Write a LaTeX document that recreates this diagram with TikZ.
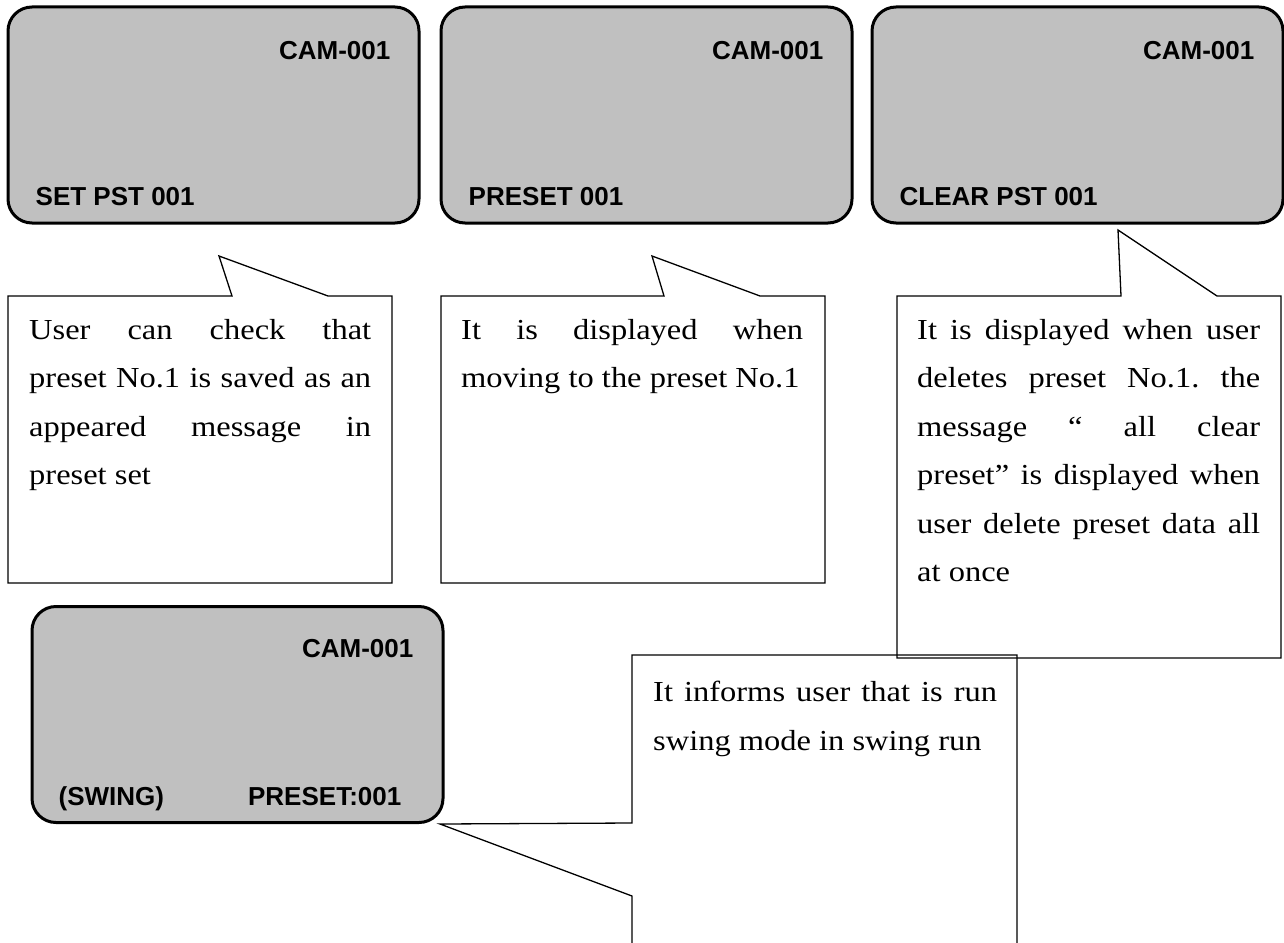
\documentclass[tikz,border=0pt]{standalone}
\usepackage{fontspec}
\setsansfont{Liberation Sans}
\newfontfamily\notefont[FakeStretch=1.12]{Liberation Serif}
\usepackage{tikz}
\usetikzlibrary{
  positioning,
  calc
}
\definecolor{lcdgray}{RGB}{192,192,192}

\begin{document}
\begin{tikzpicture}[
  x=1pt, y=-1pt,
  screen/.style={
    draw, rounded corners=24pt, minimum width=411pt, minimum height=216pt,
    fill=lcdgray, line width=3pt, inner sep=0pt,
  },
  osd/.style={font=\fontsize{26}{30}\selectfont\sffamily\bfseries, inner sep=0pt},
  bubble/.style={draw, line width=1.3pt},
  note/.style={
    font=\fontsize{29}{48.5}\selectfont\notefont\frenchspacing,
    align=justify, anchor=north west, inner sep=0pt,
  },
]
\useasboundingbox (0,0) rectangle (1284,942);

% Top row of screens
\foreach \n/\x/\msg in {s1/213.5/SET PST 001, s2/646.5/PRESET 001, s3/1077.5/CLEAR PST 001} {
  \node[screen] (\n) at (\x,115) {};
  \node[osd, anchor=base east] (\n cam) at ([xshift=-30pt,yshift=-54pt]\n.north east) {CAM-001};
  \node[osd, anchor=base west] (\n msg) at ([xshift=29pt,yshift=19pt]\n.south west) {\msg};
}

% Swing screen
\node[screen] (s4) at (237.5,714.5) {};
\node[osd, anchor=base east] (s4cam)  at ([xshift=-31pt,yshift=-52pt]s4.north east) {CAM-001};
\node[osd, anchor=base west] (s4mode) at ([xshift=28pt,yshift=19pt]s4.south west) {(SWING)};
\node[osd, anchor=base east] (s4pst)  at ([xshift=-43pt,yshift=19pt]s4.south east) {PRESET:001};

% Callout under SET PST
\coordinate (c1tl) at (8,296);
\coordinate (c1br) at (392,583);
\coordinate (c1tip) at (219,256);
\draw[bubble] (c1tl) -- (232,296) -- (c1tip) -- (328,296) -- (c1tl -| c1br)
  -- (c1br) -- (c1tl |- c1br) -- cycle;
\node[note, text width=342pt] (c1txt) at ([xshift=21pt,yshift=-23pt]c1tl)
  {User can check that\linebreak preset No.1 is saved as an\linebreak appeared message in\linebreak preset set};

% Callout under PRESET
\coordinate (c2tl) at (441,296);
\coordinate (c2br) at (825,583);
\coordinate (c2tip) at (652,256);
\draw[bubble] (c2tl) -- (664,296) -- (c2tip) -- (760,296) -- (c2tl -| c2br)
  -- (c2br) -- (c2tl |- c2br) -- cycle;
\node[note, text width=342pt] (c2txt) at ([xshift=20pt,yshift=-23pt]c2tl)
  {It is displayed when\linebreak moving to the preset No.1};

% Callout under CLEAR PST
\coordinate (c3tl) at (897,296);
\coordinate (c3br) at (1281,658);
\coordinate (c3tip) at (1118,230);
\draw[bubble] (c3tl) -- (1121,296) -- (c3tip) -- (1217,296) -- (c3tl -| c3br)
  -- (c3br) -- (c3tl |- c3br) -- cycle;
\node[note, text width=343pt] (c3txt) at ([xshift=20pt,yshift=-23pt]c3tl)
  {It is displayed when user\linebreak deletes preset No.1. the\linebreak message “ all clear\linebreak preset” is displayed when\linebreak user delete preset data all\linebreak at once};

% Callout beside the swing screen (runs off the bottom)
\coordinate (c4tl) at (632,655);
\coordinate (c4br) at (1017,943);
\coordinate (c4hi) at (632,823);
\coordinate (c4lo) at (632,896);
\coordinate (c4tip) at (440,824);
\draw[bubble] (c4tl |- c4br) -- (c4lo) -- (c4tip) -- (c4hi) -- (c4tl)
  -- (c4tl -| c4br) -- (c4br);
\node[note, text width=344pt] (c4txt) at ([xshift=21pt,yshift=-26pt]c4tl)
  {It informs user that is run\linebreak swing mode in swing run};

\end{tikzpicture}
\end{document}
